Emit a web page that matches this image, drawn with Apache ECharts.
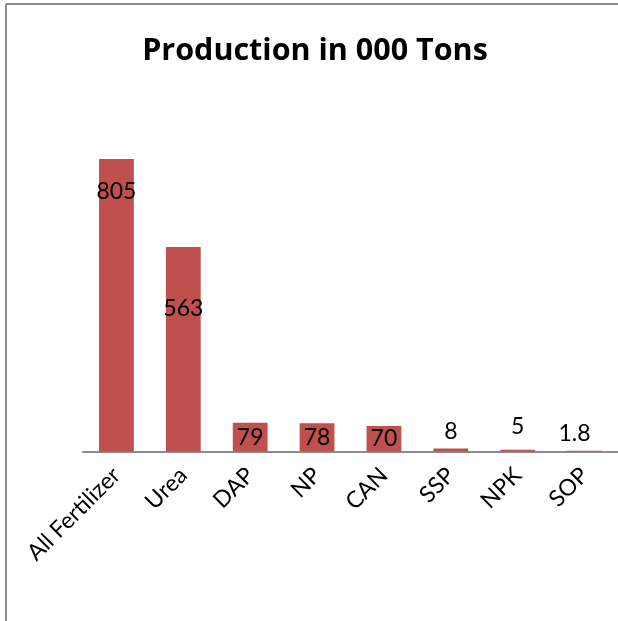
<!DOCTYPE html>
<html>
<head>
<meta charset="utf-8">
<script src="https://cdn.jsdelivr.net/npm/echarts@6/dist/echarts.min.js"></script>
<style>
  html, body { margin: 0; padding: 0; background: #fff; }
  #chart { width: 618px; height: 621px; }
</style>
</head>
<body>
<div id="chart"></div>
<script>
// Fertilizer production, thousand tons
const categories = ['All Fertilizer', 'Urea', 'DAP', 'NP', 'CAN', 'SSP', 'NPK', 'SOP'];
const production = [805, 563, 79, 78, 70, 8, 5, 1.8];
const titleText = 'Production in 000 Tons';

// Label placement per bar (hand-tuned, as in the original workbook)
const labelPlacement = [
  { position: 'insideTop', distance: 21 },
  { position: 'insideTop', distance: 50 },
  { position: 'inside' },
  { position: 'inside' },
  { position: 'inside' },
  { position: 'top', distance: 6 },
  { position: 'top', distance: 12 },
  { position: 'top', distance: 6, offset: [-10, 0] }
];

const FONT = 'Lato, "Open Sans", sans-serif';

const chart = echarts.init(document.getElementById('chart'), null, { renderer: 'canvas' });

chart.setOption({
  animation: false,
  backgroundColor: '#ffffff',
  title: {
    text: titleText,
    left: 310,
    top: 31,
    textAlign: 'center',
    textStyle: { fontFamily: '"Open Sans", Lato, sans-serif', fontWeight: 'bold', fontSize: 30.5, color: '#000' }
  },
  graphic: [
    { type: 'line', shape: { x1: 6, y1: 4, x2: 618, y2: 4 }, style: { stroke: '#8c8c8c', lineWidth: 2 } },
    { type: 'line', shape: { x1: 6, y1: 4, x2: 6, y2: 621 }, style: { stroke: '#8c8c8c', lineWidth: 2 } }
  ],
  grid: { left: 83, top: 124.5, width: 538, height: 327 },
  xAxis: {
    type: 'category',
    data: categories,
    axisLine: { show: true, lineStyle: { color: '#8c8c8c', width: 2 } },
    axisTick: { show: false },
    axisLabel: {
      rotate: 45,
      interval: 0,
      margin: 20,
      fontFamily: FONT,
      fontSize: 23,
      color: '#000'
    }
  },
  yAxis: {
    type: 'value',
    min: 0,
    max: 900,
    show: false,
    splitLine: { show: false }
  },
  series: [{
    type: 'bar',
    barCategoryGap: '48%',
    itemStyle: { color: '#C0504D' },
    label: {
      show: true,
      fontFamily: FONT,
      fontSize: 23,
      color: '#000'
    },
    data: production.map((v, i) => ({ value: v, label: labelPlacement[i] }))
  }]
});
</script>
</body>
</html>
